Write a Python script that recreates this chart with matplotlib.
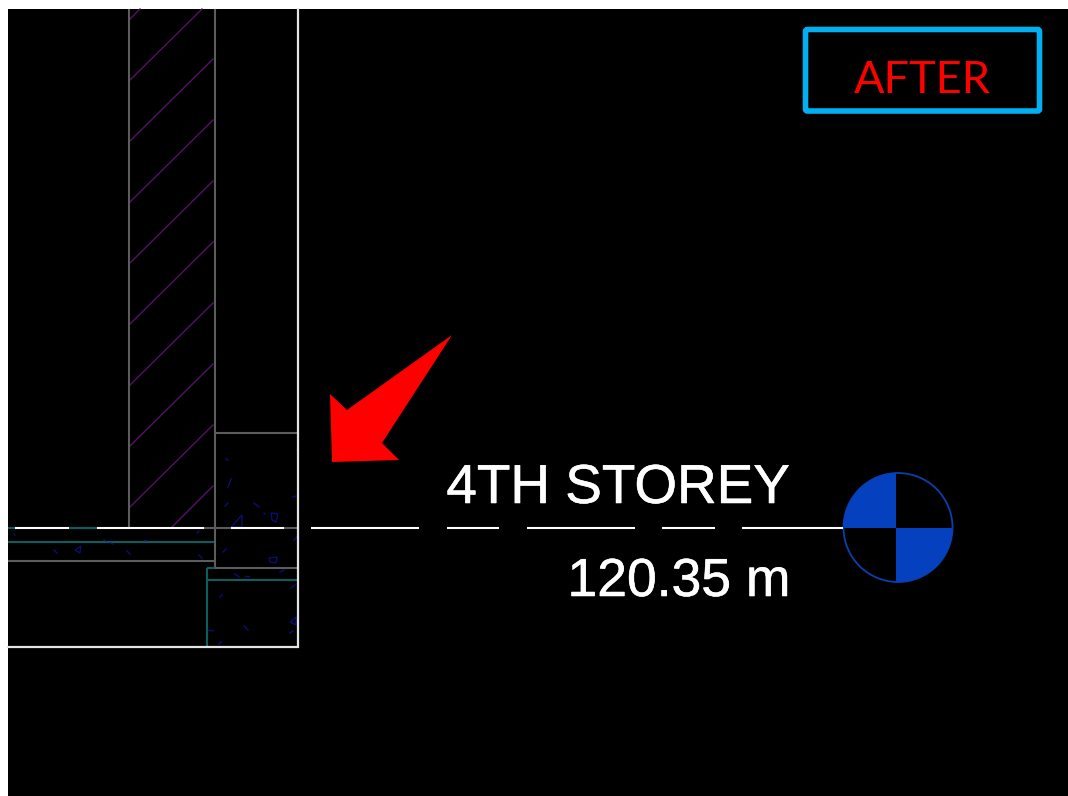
import matplotlib
matplotlib.use('Agg')
import matplotlib.pyplot as plt
import matplotlib.patheffects as pe
from matplotlib.patches import Polygon, Rectangle, Circle, FancyBboxPatch

GRAY = '#5c5c5c'
TEAL = '#0b5f5f'
PURPLE = '#551266'
SPECK = '#0a0f7a'
MARKER = '#0540be'

# drawing lines, in picture pixels
grayLines = [
    [(129, 9), (129, 528)], [(215, 9), (215, 568)],
    [(215, 433), (298, 433)], [(8, 561), (215, 561)], [(215, 568), (298, 568)],
    [(204, 528), (231, 528)], [(284, 528), (298, 528)],
]
tealLines = [
    [(8, 542), (214, 542)], [(207, 580), (298, 580)], [(207, 568), (207, 647)],
    [(207, 568), (215, 568)], [(69, 528), (97, 528)], [(8, 528), (15, 528)],
]
whiteFrame = [(298, 9), (298, 647), (8, 647)]
levelDashes = [(15, 69), (97, 204), (231, 284), (311, 419), (447, 499), (527, 635), (662, 715), (742, 843)]
hatchLines = [
    [(130, 19), (140, 9)], [(130, 80), (202, 9)], [(130, 141), (213, 59)], [(130, 202), (213, 120)],
    [(130, 263), (213, 181)], [(130, 324), (213, 242)], [(130, 385), (213, 303)], [(130, 446), (213, 364)],
    [(130, 507), (213, 425)], [(172, 527), (213, 486)],
]
specks = [
    [(226, 459), (228, 460)], [(231, 479), (228, 487)], [(225, 506), (228, 503)], [(254, 503), (259, 507)],
    [(264, 513), (265, 514)], [(296, 496), (293, 497)], [(297, 450), (298, 451)], [(294, 540), (297, 537)],
    [(223, 552), (226, 549)], [(197, 533), (199, 531)], [(14, 534), (15, 535)], [(104, 540), (106, 541)],
    [(110, 543), (113, 544)], [(144, 540), (146, 540)], [(54, 550), (57, 553)], [(127, 551), (130, 554)],
    [(199, 555), (202, 558)], [(235, 574), (239, 577)], [(245, 576), (249, 576)], [(280, 572), (284, 570)],
    [(291, 588), (295, 585)], [(220, 597), (222, 595)], [(208, 630), (213, 630)], [(244, 626), (248, 630)],
    [(290, 633), (293, 631)], [(219, 644), (221, 642)],
]
speckTriangles = [
    [(231, 527), (242, 515), (242, 527)], [(271, 513), (278, 514), (276, 522), (272, 520)],
    [(75, 550), (81, 546), (80, 553)], [(269, 558), (277, 557), (276, 563), (270, 562)],
    [(296, 617), (290, 622), (296, 625)],
]
arrowShape = [(452, 335), (347, 410), (330, 394), (332, 462), (399, 460), (382, 443)]

plt.figure(figsize=(10.68, 7.96), dpi=100, facecolor='white')
ax = plt.axes([0, 0, 1, 1])
ax.set_xlim(0, 1068)
ax.set_ylim(796, 0)
ax.axis('off')
ax.add_patch(Rectangle((8, 9), 1060, 787, color='black', lw=0))

for line in hatchLines:
    ax.plot(*zip(*line), color=PURPLE, lw=1.0)
for line in grayLines:
    ax.plot(*zip(*line), color=GRAY, lw=1.5, solid_capstyle='butt')
for line in tealLines:
    ax.plot(*zip(*line), color=TEAL, lw=1.5, solid_capstyle='butt')
for line in specks:
    ax.plot(*zip(*line), color=SPECK, lw=1.0)
for shape in speckTriangles:
    ax.add_patch(Polygon(shape, closed=True, fill=False, edgecolor=SPECK, lw=0.9))

ax.plot(*zip(*whiteFrame), color='#e4e4e4', lw=1.6, solid_joinstyle='miter')
for start, end in levelDashes:
    ax.plot([start, end], [528, 528], color='white', lw=1.5, solid_capstyle='butt')

ax.add_patch(Polygon(arrowShape, closed=True, color='#ff0000', lw=0))

heavier = [pe.withStroke(linewidth=0.4, foreground='white')]
ax.text(790, 503, '4TH STOREY', color='white', fontsize=39.5, family='Liberation Sans', ha='right',
        va='baseline', path_effects=heavier)
ax.text(791, 596, '120.35 m', color='white', fontsize=38.5, family='Liberation Sans', ha='right',
        va='baseline', path_effects=heavier)

# level marker, the quadrants split left of the circle centre
ring = Circle((898, 527.5), 54.5, fill=False, edgecolor='#0a3fae', lw=1.3)
ax.add_patch(ring)
ax.add_patch(Rectangle((840, 470), 56, 57.5, color=MARKER, lw=0, clip_path=ring))
ax.add_patch(Rectangle((896, 527.5), 60, 60, color=MARKER, lw=0, clip_path=ring))

# label box
ax.add_patch(FancyBboxPatch((805.5, 29.5), 234, 81.5, boxstyle='round,pad=0,rounding_size=2', fill=False,
                            edgecolor='#00b0f0', lw=4))
ax.text(922, 93, 'AFTER', color='#ff0000', fontsize=32.5, family='Lato', ha='center', va='baseline')

plt.savefig('out.png', dpi=100, facecolor='white')
